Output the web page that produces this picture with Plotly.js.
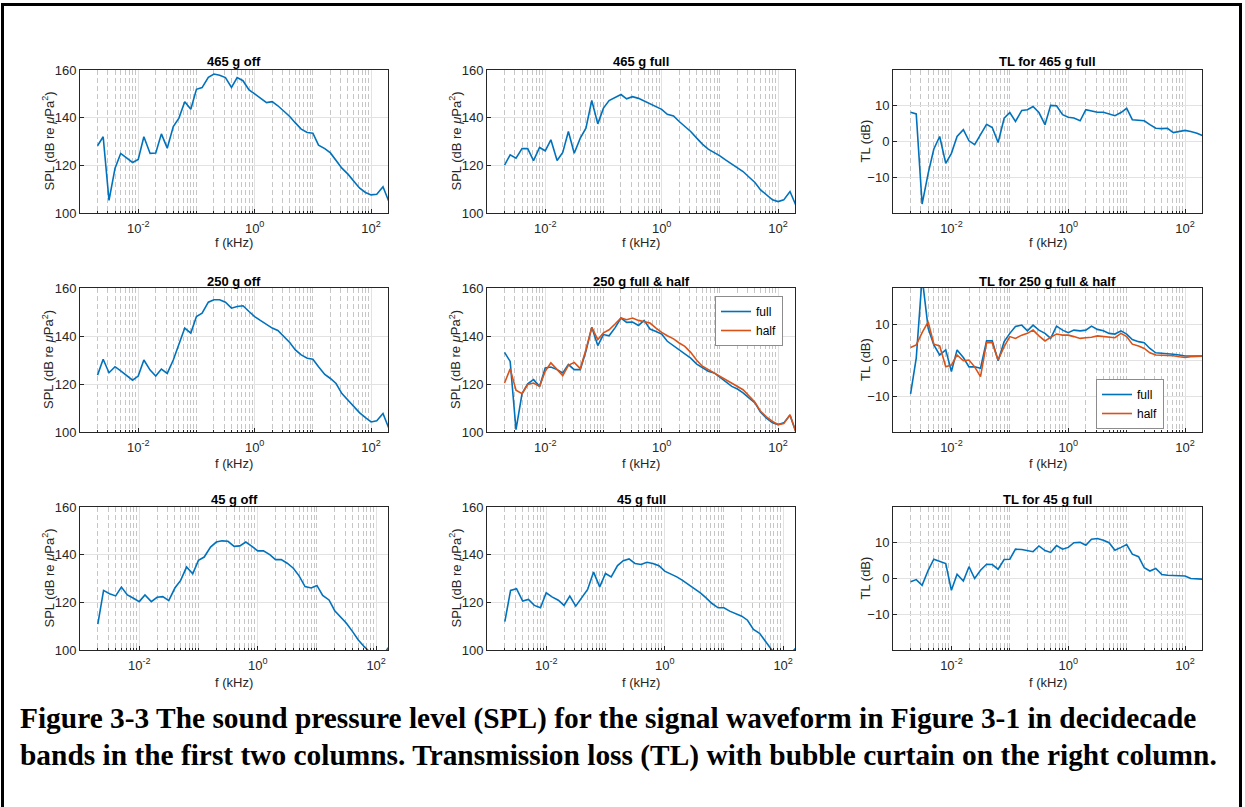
<!DOCTYPE html>
<html><head><meta charset="utf-8">
<script src="https://cdn.plot.ly/plotly-3.0.1.min.js"></script>
<style>html,body{margin:0;padding:0;background:#fff;overflow:hidden}#chart{width:1245px;height:807px}</style>
</head><body><div id="chart"></div>
<script>
// Decidecade band centre frequencies (kHz)
const freq = [0.002,0.0025,0.00315,0.004,0.005,0.0063,0.008,
  0.01,0.0125,0.016,0.02,0.025,0.0315,0.04,0.05,0.063,0.08,
  0.1,0.125,0.16,0.2,0.25,0.315,0.4,0.5,0.63,0.8,
  1,1.25,1.6,2,2.5,3.15,4,5,6.3,8,
  10,12.5,16,20,25,31.5,40,50,63,80,
  100,125,160,200];
const freq45 = freq.slice(0, 50);

const spl465off = [128.2,132,105.3,118.8,125,123.2,121.2,122.5,132,125,125.2,133.2,127.2,136.3,139.8,146.7,143.5,151.9,152.6,156.9,158.3,157.8,156.8,152.7,156.8,155.5,151.6,150,148.1,146.3,146.7,145,142.8,140.5,137.8,135.2,133.8,133.5,128.5,127,125.2,122,118.8,116.3,113.3,110.5,108.6,107.6,107.9,111,105];
const spl465full = [120.1,124.4,123,127,127,122,127.5,126.1,130.7,122,125.4,134.2,125.1,131.4,135.6,147.2,137.4,144,147.2,148.4,149.7,147.9,148.8,148.1,147,146,144.9,143.5,141.4,140.7,138.4,136.3,134.2,131.4,128.9,126.8,125.4,124,122.3,120.5,118.8,117.4,115.1,112.8,109.7,107.6,105.5,104.8,105.5,109,103.5];
const tl465full = [8.2,7.7,-17.5,-8.9,-2.1,1.4,-6.1,-3.3,1.4,3.3,0.2,-0.9,1.9,4.8,3.9,-0.3,6.5,8.1,5.6,8.7,8.9,9.8,8.1,4.7,10.1,10,7.5,6.8,6.6,5.8,8.9,8.6,8.2,8.2,7.8,7.2,8.1,9.3,6.1,5.9,5.8,4.7,3.7,3.6,3.7,2.5,2.8,3.1,2.8,2.3,1.6];

const spl250off = [123.7,130.3,124.7,127.2,125.5,123.7,121.6,123.3,130,125.8,123.3,126.2,124.4,130,136.3,143.3,141.2,148.1,149.5,154.1,155.1,155.1,154.1,151.6,152.3,152.6,150.2,148.1,146.5,144.7,143.3,142.3,139.8,137.3,134.2,132.1,130.7,130.3,127.2,124,122.3,120.2,116,113.3,110.5,108.1,106,104.2,104.7,107.7,101.8];
const spl250full = [133.2,129.4,101,116,120.1,121.8,119,126.7,127.1,126,124.6,128.1,126,126,133.6,143.6,136,140.6,140.1,143.6,147.5,145.7,145.8,144.4,146.5,142.9,141.9,140.8,137.8,136,134.3,132.5,130.8,128.3,126.7,125.3,124.6,122.9,121.1,119,117.9,116.3,114.2,112.1,108.2,105.8,103.8,103.1,103.8,107,100.3];
const spl250half = [120.4,126.3,117.4,116,119.8,120.4,119,125.3,128.8,126,123.5,127.8,129,126.4,134.3,143.6,138.5,141.3,142.6,145.1,147.5,146.8,147.5,146.5,146.1,145.4,143.3,141.5,140.1,138.8,137.1,135.7,133.2,129.9,127.4,126,124.6,123.2,121.8,120.4,119,117.6,115.1,112.4,108.6,106.3,104.4,103.1,103.5,107.2,100.3];
const tl250full = [-9.4,0.5,23,8.8,4.2,1.4,2.8,-3.2,2.8,0.7,-1.9,-1.9,-2.3,5.3,5.3,-0.2,5.1,7.4,9.3,9.7,8.1,9.7,8.3,7.4,6,9.4,8.3,7.6,8.3,8.1,8.3,9.4,8.5,8.1,7.4,7.2,8.1,7.2,5.7,5.1,4.8,3.2,2,1.9,1.9,1.6,1.4,1.1,1.1,1.1,1.1];
const tl250half = [3.5,4.2,7.6,10.6,4.4,3.9,-1.9,-1.4,1.4,-0.2,0,-1.9,-4.6,4.8,4.8,0,3.7,6.5,6,6.9,7.4,8.3,6.7,5.3,6.3,7.2,6.9,6.9,6.5,6,6.2,6.3,6.7,6.5,6.2,6.2,7.4,6.5,4.4,3.9,3.2,2,1.4,1.4,1.4,1.2,0.9,0.7,0.9,1.1,1.1];

const spl45off = [110.9,125,123.6,122.7,126.4,123.1,121.7,120.3,123.1,120.3,122.1,122.4,120.7,126,129.2,134.8,132,137.6,139,143.2,145.3,145.8,145.6,143.5,143.7,145.3,143.5,141.6,141.6,140,137.9,137.9,136.4,134.3,131.1,126.6,126,127.1,122.9,121,116.5,114,111.2,107.7,104.2,101.4,98.9,96.5,97,101];
const spl45full = [111.9,125,125.7,120.5,121.2,118.7,117.7,124,122.3,120.9,118.7,122.6,118.4,122.3,125.4,132.7,126.5,132.1,130.7,135.4,137.5,138.2,136.3,135.9,136.8,136.3,135.4,133.1,132.1,130.7,129.2,127.5,125.8,124,121.9,119.5,117.7,117.7,116.3,115.3,114.2,112.5,108.6,107,103.5,100.3,97.5,96,97.5,100.6];
const tl45full = [-0.9,-0.3,-1.9,2.3,5.4,4.9,4.2,-3.3,1.2,-0.7,3.3,0,2.3,4,3.9,2.6,5.3,5.4,8.2,8.1,7.9,7.5,9.1,7.8,7.3,9.2,8.2,8.7,10,10.1,9.3,11,11.2,10.7,10,7.9,8.7,9.5,6.8,6.1,3,2.1,2.8,1.1,0.9,0.9,0.9,0.7,0,-0.2,-0.2];

const titles = ['465 g off','465 g full','TL for 465 g full',
                '250 g off','250 g full &amp; half','TL for 250 g full &amp; half',
                '45 g off','45 g full','TL for 45 g full'];
const xTickVals = [0.01, 1, 100];
const xTickText = ['10<sup>-2</sup>','10<sup>0</sup>','10<sup>2</sup>'];
const splTicks = [100,120,140,160];
const tlTicks = [-10,0,10];
const captionLines = [
  'Figure 3-3 The sound pressure level (SPL) for the signal waveform in Figure 3-1 in decidecade',
  'bands in the first two columns. Transmission loss (TL) with bubble curtain on the right column.'
];

const BLUE = '#0072BD', ORANGE = '#D95319';
const panels = [
  {s:[{x:freq,y:spl465off}], kind:'spl', xmax:2.29},
  {s:[{x:freq,y:spl465full}], kind:'spl', xmax:2.29},
  {s:[{x:freq,y:tl465full}], kind:'tl', xmax:2.29},
  {s:[{x:freq,y:spl250off}], kind:'spl', xmax:2.29},
  {s:[{x:freq,y:spl250full,name:'full',leg:'legend'},{x:freq,y:spl250half,name:'half',leg:'legend',c:ORANGE}], kind:'spl', xmax:2.29},
  {s:[{x:freq,y:tl250full,name:'full',leg:'legend2'},{x:freq,y:tl250half,name:'half',leg:'legend2',c:ORANGE}], kind:'tl', xmax:2.29},
  {s:[{x:freq45,y:spl45off}], kind:'spl', xmax:2.2},
  {s:[{x:freq45,y:spl45full}], kind:'spl', xmax:2.2},
  {s:[{x:freq,y:tl45full}], kind:'tl', xmax:2.29}
];

const W = 1245, H = 807;
const PX = v => v / W, PY = v => 1 - v / H;
const cols = [[80,388],[487,795],[893,1202]];
const rows = [[70,213],[288,432],[507,650]];
const titleY = [62, 281, 500];
const yTitleX = [48, 455, 865];
const xTitleY = [243, 463, 682];
const FONT = 'Liberation Sans, Arial, sans-serif';
const AX = '#262626';
const FS = 13;

const minorVals = [];
for (let e = -3; e <= 2; e++) for (let m = 1; m <= 9; m++) {
  const v = m * Math.pow(10, e);
  if (m === 1 && (e === -2 || e === 0 || e === 2)) continue;
  if (v > 250) continue;
  minorVals.push(v);
}

const data = [];
const legendStyle = {bgcolor:'#fff', bordercolor:'#8c8c8c', borderwidth:1, font:{size:12, color:'#000'}, tracegroupgap:0, itemwidth:30};
const layout = {
  width: W, height: H, margin:{l:0,r:0,t:0,b:0},
  paper_bgcolor:'#fff', plot_bgcolor:'#fff',
  font:{family:FONT, size:FS, color:AX},
  showlegend:true,
  annotations:[], shapes:[],
  legend:Object.assign({x:PX(783), xanchor:'right', y:PY(296), yanchor:'top'}, legendStyle),
  legend2:Object.assign({x:PX(1164), xanchor:'right', y:PY(379), yanchor:'top'}, legendStyle)
};

panels.forEach((p, i) => {
  const r = Math.floor(i / 3), c = i % 3;
  const n = i + 1;
  const xa = n === 1 ? 'xaxis' : 'xaxis' + n;
  const ya = n === 1 ? 'yaxis' : 'yaxis' + n;
  const xr = n === 1 ? 'x' : 'x' + n;
  const yr = n === 1 ? 'y' : 'y' + n;
  p.s.forEach(s => {
    data.push({
      type:'scatter', mode:'lines', x:s.x, y:s.y, xaxis:xr, yaxis:yr,
      line:{color:s.c || BLUE, width:1.6},
      name:s.name || '', showlegend:!!s.name, legend:s.leg || 'legend',
      hoverinfo:'skip'
    });
  });
  layout[xa] = {
    type:'log', domain:[PX(cols[c][0]), PX(cols[c][1])], anchor:yr,
    range:[-3, p.xmax], tickmode:'array', tickvals:xTickVals, ticktext:xTickText,
    ticks:'inside', ticklen:4, tickcolor:AX, tickfont:{size:FS, color:AX}, ticklabelstandoff:3,
    showgrid:true, gridcolor:'#e2e2e2', gridwidth:1,
    showline:true, linecolor:AX, linewidth:1, mirror:true, zeroline:false,
    minor:{tickmode:'array', tickvals:minorVals, ticks:'inside', ticklen:2, tickcolor:AX,
           showgrid:true, gridcolor:'#c6c6c6', griddash:'5px,3px', gridwidth:1},
    fixedrange:true
  };
  const isSpl = p.kind === 'spl';
  layout[ya] = {
    domain:[PY(rows[r][1]), PY(rows[r][0])], anchor:xr,
    range: isSpl ? [100,160] : [-20,20],
    tickmode:'array', tickvals: isSpl ? splTicks : tlTicks,
    ticks:'inside', ticklen:4, tickcolor:AX, tickfont:{size:FS, color:AX},
    showgrid:true, gridcolor:'#e2e2e2', gridwidth:1,
    showline:true, linecolor:AX, linewidth:1, mirror:true, zeroline:false,
    fixedrange:true
  };
  const cx = (cols[c][0] + cols[c][1]) / 2;
  layout.annotations.push({
    xref:'paper', yref:'paper', x:PX(cx), y:PY(titleY[r]), xanchor:'center', yanchor:'middle',
    text:'<b>' + titles[i] + '</b>', showarrow:false, font:{size:FS, color:'#000'}
  });
  layout.annotations.push({
    xref:'paper', yref:'paper', x:PX(cx), y:PY(xTitleY[r]), xanchor:'center', yanchor:'middle',
    text:'f (kHz)', showarrow:false, font:{size:FS, color:AX}
  });
  layout.annotations.push({
    xref:'paper', yref:'paper', x:PX(yTitleX[c]), y:PY((rows[r][0] + rows[r][1]) / 2),
    xanchor:'center', yanchor:'middle', textangle:-90,
    text: isSpl ? 'SPL (dB re <i>μ</i>Pa<sup>2</sup>)' : 'TL (dB)',
    showarrow:false, font:{size:FS, color:AX}
  });
});

const capFont = {family:'Liberation Serif, Times New Roman, serif', size:29.4, color:'#000'};
layout.annotations.push({
  xref:'paper', yref:'paper', x:PX(18), y:PY(718), xanchor:'left', yanchor:'middle',
  text:'<b>' + captionLines[0] + '</b>', showarrow:false, font:capFont
});
layout.annotations.push({
  xref:'paper', yref:'paper', x:PX(18), y:PY(755), xanchor:'left', yanchor:'middle',
  text:'<b>' + captionLines[1] + '</b>', showarrow:false, font:capFont
});

layout.shapes.push({
  type:'rect', xref:'paper', yref:'paper',
  x0:PX(2.5), x1:PX(1240.5), y0:PY(830), y1:PY(4.5),
  line:{color:'#000', width:3}, fillcolor:'rgba(0,0,0,0)', layer:'above'
});

Plotly.newPlot('chart', data, layout, {displayModeBar:false, staticPlot:true});
</script>
</body></html>
